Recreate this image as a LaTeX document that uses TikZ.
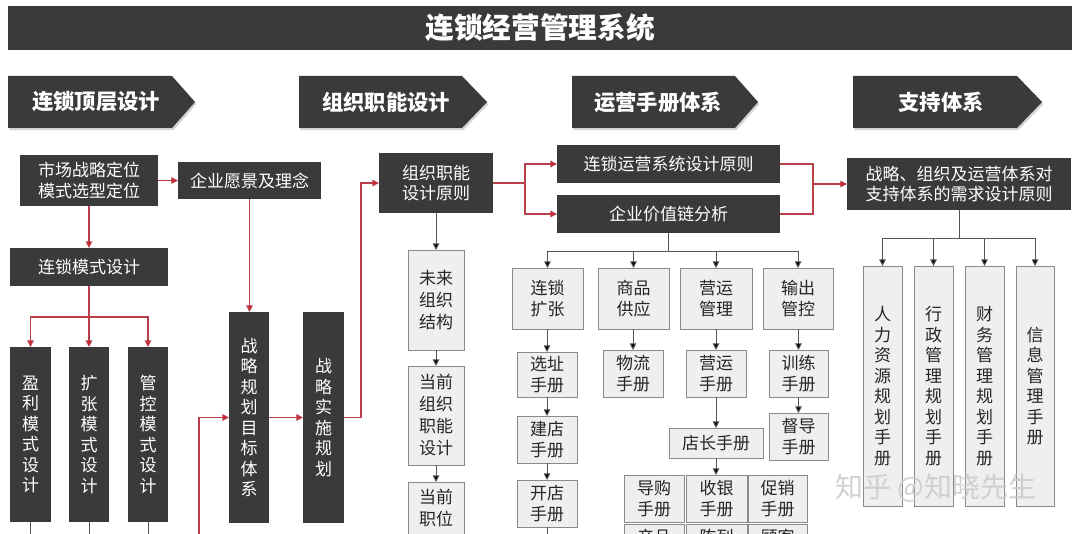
\documentclass[tikz,border=0pt]{standalone}
\usepackage{fontspec}
\setmainfont{Noto Sans CJK SC}
\usetikzlibrary{shadows,arrows.meta}
\definecolor{dk}{HTML}{3A3A3A}
\definecolor{rd}{HTML}{B8404A}
\definecolor{rdh}{HTML}{D2232E}
\definecolor{gbf}{HTML}{EFEFEF}
\definecolor{gbd}{HTML}{8A8A8A}
\definecolor{ln}{HTML}{555555}
\tikzset{
  base/.style={inner sep=0pt, outer sep=0pt, align=center},
  dkbox/.style={base, fill=dk, text=white, font=\fontsize{12.75pt}{15.4pt}\selectfont},
  gbox/.style={base, fill=gbf, draw=gbd, line width=0.6pt, text=black!85, font=\fontsize{12.75pt}{15.4pt}\selectfont},
  gboxt/.style={gbox, font=\fontsize{12.75pt}{16.5pt}\selectfont},
  hdr/.style={fill=dk, drop shadow={opacity=0.35, shadow xshift=1pt, shadow yshift=-1.6pt}},
  hdrtxt/.style={text=white, font=\bfseries\fontsize{16pt}{18pt}\selectfont, inner sep=0pt},
  rline/.style={draw=rd, line width=0.8pt},
  rarr/.style={rline, -{Triangle[length=5pt,width=5pt,fill=rdh]}},
  bline/.style={draw=ln, line width=0.7pt},
  barr/.style={bline, -{Triangle[length=5pt,width=5pt,fill=black]}},
}
% \bx{style}{name}{x1}{y1}{x2}{y2}{text}
\newcommand\bx[7]{\node[#1, minimum width={(#5-#3)*0.75pt}, minimum height={(#6-#4)*0.75pt}] (#2) at ({(#3+#5)/2},{(#4+#6)/2}) {#7};}
\begin{document}
\begin{tikzpicture}[x=0.75pt,y=-0.75pt]
\useasboundingbox (0,0) rectangle (1080,534);
\fill[white] (0,0) rectangle (1080,534);
\clip (0,0) rectangle (1080,534);

% title
\bx{dkbox}{title}{8}{6}{1072}{50}{}
\node[text=white, font=\bfseries\fontsize{21.5pt}{24pt}\selectfont, inner sep=0pt] (titletxt) at (540,28) {连锁经营管理系统};

% headers
\fill[hdr] (8,76) -- (172,76) -- (195,102) -- (172,128) -- (8,128) -- cycle;
\node[hdrtxt] (h1) at (96,102) {连锁顶层设计};
\fill[hdr] (299,76) -- (462,76) -- (487,102) -- (462,128) -- (299,128) -- cycle;
\node[hdrtxt] (h2) at (386,102) {组织职能设计};
\fill[hdr] (572,76) -- (735,76) -- (758,102) -- (735,128) -- (572,128) -- cycle;
\node[hdrtxt] (h3) at (658,102) {运营手册体系};
\fill[hdr] (853,76) -- (1017,76) -- (1042,102) -- (1017,128) -- (853,128) -- cycle;
\node[hdrtxt] (h4) at (941,102) {支持体系};

% left column
\bx{dkbox}{nsc}{20}{155}{158}{206}{市场战略定位\\模式选型定位}
\bx{dkbox}{nyj}{178}{162}{321}{199}{企业愿景及理念}
\bx{dkbox}{nms}{10}{248}{168}{286}{连锁模式设计}
\bx{dkbox}{nyl}{10}{347}{51}{522}{盈\\利\\模\\式\\设\\计}
\bx{dkbox}{nkz}{69}{347}{109}{522}{扩\\张\\模\\式\\设\\计}
\bx{dkbox}{ngk}{128}{347}{168}{522}{管\\控\\模\\式\\设\\计}
\bx{dkbox}{ngh}{229}{312}{269}{523}{战\\略\\规\\划\\目\\标\\体\\系}
\bx{dkbox}{nss}{303}{312}{344}{523}{战\\略\\实\\施\\规\\划}

\draw[rarr] (nsc.east |- nyj) -- (nyj.west);
\draw[rarr] (nsc.south) -- (nms.north);
\coordinate (fk) at (89,317);
\draw[rarr] (nms.south) -- (nkz.north);
\draw[rarr] (fk) -| (nyl.north);
\draw[rarr] (fk) -| (ngk.north);
\draw[bline] (nyl.south) -- ++(0,30);
\draw[bline] (nkz.south) -- ++(0,30);
\draw[bline] (ngk.south) -- ++(0,30);
\draw[rarr] (nyj.south) -- (nyj.south |- ngh.north);
\draw[rarr] (ngh.east |- nss.west) -- (nss.west);
\coordinate (rb) at (199,560);
\draw[rarr] (rb) |- (ngh.west);
\coordinate (sk) at (361,417.5);

% organisation column
\bx{dkbox}{nzz}{379}{153}{493}{213}{组织职能\\设计原则}
\draw[rarr] (nss.east) -- (sk) |- (nzz.west);
\bx{gboxt}{nwl}{408}{250}{464}{350}{未来\\组织\\结构}
\bx{gboxt}{ndq}{408}{366}{464}{465}{当前\\组织\\职能\\设计}
\bx{gbox}{nzw}{408}{482}{464}{600}{}
\node[anchor=north, inner sep=0pt, align=center, text=black!85, font=\fontsize{12.75pt}{16.5pt}\selectfont] (nzwt) at (436,489) {当前\\职位};
\draw[barr] (nzz.south) -- (nwl.north);
\draw[barr] (nwl.south) -- (ndq.north);
\draw[barr] (ndq.south) -- (nzw.north);

% operations column
\bx{dkbox}{nly}{557}{145}{780}{183}{连锁运营系统设计原则}
\bx{dkbox}{njz}{557}{195}{780}{233}{企业价值链分析}
\coordinate (zf) at (525,183);
\draw[rline] (nzz.east) -- (zf);
\draw[rarr] (zf) |- (nly.west);
\draw[rarr] (zf) |- (njz.west);

\bx{gbox}{nlk}{512}{268}{583}{329}{连锁\\扩张}
\bx{gbox}{nsp}{598}{268}{669}{329}{商品\\供应}
\bx{gbox}{nyy}{680}{268}{752}{329}{营运\\管理}
\bx{gbox}{nsc2}{763}{268}{833}{329}{输出\\管控}
\coordinate (vc) at (668.5,251);
\draw[bline] (njz.south) -- (vc);
\draw[barr] (vc) -| (nlk.north);
\draw[barr] (vc) -| (nsp.north);
\draw[barr] (vc) -| (nyy.north);
\draw[barr] (vc) -| (nsc2.north);

\bx{gbox}{nxz}{517}{352}{577}{397}{选址\\手册}
\bx{gbox}{njd}{517}{416}{577}{463}{建店\\手册}
\bx{gbox}{nkd}{517}{480}{577}{527}{开店\\手册}
\bx{gbox}{nwl2}{603}{350}{663}{397}{物流\\手册}
\bx{gbox}{nyysc}{686}{350}{746}{397}{营运\\手册}
\bx{gbox}{nxl}{769}{350}{828}{397}{训练\\手册}
\bx{gbox}{ndd}{769}{413}{828}{460}{督导\\手册}
\bx{gbox}{ndz}{669}{428}{763}{458}{店长手册}
\bx{gbox}{ndg}{624}{475}{684}{522}{导购\\手册}
\bx{gbox}{nsy}{686}{475}{747}{522}{收银\\手册}
\bx{gbox}{ncx}{748}{475}{807}{522}{促销\\手册}
\bx{gbox}{nr1}{624}{524}{684}{571}{产品\\手册}
\bx{gbox}{nr2}{686}{524}{747}{571}{陈列\\手册}
\bx{gbox}{nr3}{748}{524}{807}{571}{顾客\\手册}

\draw[barr] (nlk.south -| nxz) -- (nxz.north);
\draw[barr] (nxz.south) -- (njd.north);
\draw[barr] (njd.south) -- (nkd.north);
\draw[bline] (nkd.south) -- ++(0,20);
\draw[barr] (nsp.south -| nwl2) -- (nwl2.north);
\draw[barr] (nyy.south) -- (nyysc.north);
\draw[barr] (nyysc.south) -- (ndz.north);
\draw[barr] (ndz.south) -- (ndz.south |- nsy.north);
\draw[barr] (nsc2.south -| nxl) -- (nxl.north);
\draw[barr] (nxl.south) -- (ndd.north);

% support column
\coordinate (rj) at (813,184);
\draw[rline] (nly.east) -| (rj);
\draw[rline] (njz.east) -| (rj);
\bx{dkbox}{nzc}{847}{158}{1071}{210}{战略、组织及运营体系对\\支持体系的需求设计原则}
\draw[rarr] (rj) -- (nzc.west);

\bx{gbox}{nrl}{863}{266}{902}{506}{人\\力\\资\\源\\规\\划\\手\\册}
\bx{gbox}{nxz2}{914}{266}{953}{506}{行\\政\\管\\理\\规\\划\\手\\册}
\bx{gbox}{ncw}{965}{266}{1004}{506}{财\\务\\管\\理\\规\\划\\手\\册}
\bx{gbox}{nxx}{1016}{266}{1054}{506}{信\\息\\管\\理\\手\\册}
\coordinate (sj) at (959,238);
\draw[bline] (nzc.south) -- (sj);
\draw[barr] (sj) -| (nrl.north);
\draw[barr] (sj) -| (nxz2.north);
\draw[barr] (sj) -| (ncw.north);
\draw[barr] (sj) -| (nxx.north);

% watermark
\node[text=black!20, opacity=0.9, font=\fontsize{21pt}{24pt}\selectfont, inner sep=0pt] (wm) at (936,488) {知乎 @知晓先生};
\end{tikzpicture}
\end{document}
